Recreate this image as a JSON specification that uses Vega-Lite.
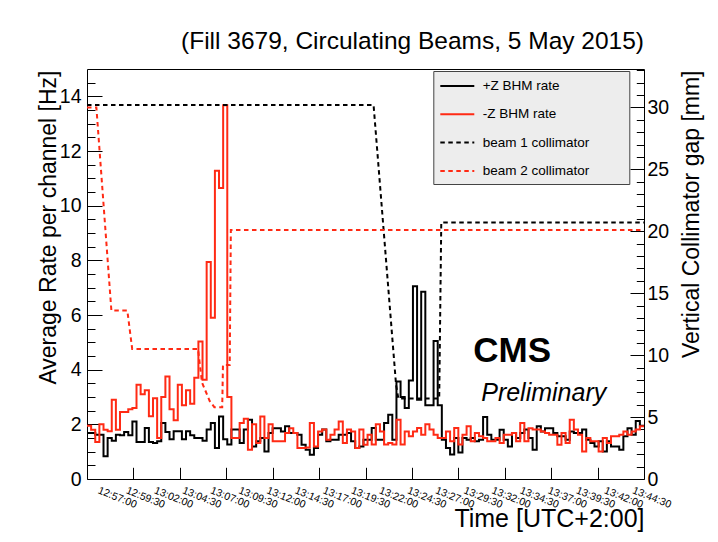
{
"$schema": "https://vega.github.io/schema/vega-lite/v6.json",
"width": 557, "height": 410,
"autosize": {"type": "none"},
"padding": {"left": 87, "top": 69, "right": 74, "bottom": 63},
"background": "#ffffff",
"config": {
  "view": {"stroke": "#000000", "strokeWidth": 1},
  "font": "Liberation Sans",
  "axis": {"domain": false, "grid": false, "labelColor": "#000000", "titleColor": "#000000", "tickColor": "#000000", "tickWidth": 1, "labelFont": "Liberation Sans", "titleFont": "Liberation Sans", "titleFontWeight": "normal"}
},
"title": {"text": "(Fill 3679, Circulating Beams, 5 May 2015)", "anchor": "end", "frame": "group", "font": "Liberation Sans", "fontSize": 24.5, "fontWeight": "normal", "color": "#000000", "baseline": "alphabetic", "offset": -4},
"layer": [
{
  "data": {"values": [
{"t":"12:55:52","plusZ":1.68,"minusZ":1.95},
{"t":"12:56:14","plusZ":1.68,"minusZ":1.8},
{"t":"12:56:36","plusZ":1.62,"minusZ":1.35},
{"t":"12:56:58","plusZ":1.62,"minusZ":2.0},
{"t":"12:57:20","plusZ":0.83,"minusZ":1.8},
{"t":"12:57:42","plusZ":1.5,"minusZ":1.75},
{"t":"12:58:04","plusZ":1.4,"minusZ":2.9},
{"t":"12:58:26","plusZ":1.62,"minusZ":1.8},
{"t":"12:58:48","plusZ":1.6,"minusZ":2.45},
{"t":"12:59:10","plusZ":1.72,"minusZ":2.45},
{"t":"12:59:32","plusZ":1.6,"minusZ":2.55},
{"t":"12:59:54","plusZ":2.1,"minusZ":2.6},
{"t":"13:00:16","plusZ":1.35,"minusZ":3.45},
{"t":"13:00:38","plusZ":1.35,"minusZ":3.1},
{"t":"13:01:00","plusZ":1.87,"minusZ":3.25},
{"t":"13:01:22","plusZ":1.35,"minusZ":2.3},
{"t":"13:01:44","plusZ":1.32,"minusZ":2.95},
{"t":"13:02:06","plusZ":1.38,"minusZ":1.5},
{"t":"13:02:28","plusZ":2.05,"minusZ":3.0},
{"t":"13:02:50","plusZ":1.72,"minusZ":3.75},
{"t":"13:03:12","plusZ":1.45,"minusZ":2.55},
{"t":"13:03:34","plusZ":1.75,"minusZ":2.15},
{"t":"13:03:56","plusZ":1.75,"minusZ":3.45},
{"t":"13:04:18","plusZ":1.45,"minusZ":2.7},
{"t":"13:04:40","plusZ":1.75,"minusZ":3.25},
{"t":"13:05:02","plusZ":1.6,"minusZ":2.75},
{"t":"13:05:24","plusZ":1.5,"minusZ":3.7},
{"t":"13:05:46","plusZ":1.5,"minusZ":5.03},
{"t":"13:06:08","plusZ":1.4,"minusZ":3.63},
{"t":"13:06:30","plusZ":1.81,"minusZ":7.94},
{"t":"13:06:52","plusZ":2.05,"minusZ":5.9},
{"t":"13:07:14","plusZ":1.13,"minusZ":11.28},
{"t":"13:07:36","plusZ":2.29,"minusZ":10.65},
{"t":"13:07:58","plusZ":1.45,"minusZ":13.67},
{"t":"13:08:20","plusZ":1.26,"minusZ":3.0},
{"t":"13:08:42","plusZ":1.81,"minusZ":1.5},
{"t":"13:09:04","plusZ":1.81,"minusZ":1.5},
{"t":"13:09:26","plusZ":1.32,"minusZ":2.05},
{"t":"13:09:48","plusZ":1.81,"minusZ":2.2},
{"t":"13:10:10","plusZ":2.17,"minusZ":1.07},
{"t":"13:10:32","plusZ":1.19,"minusZ":2.0},
{"t":"13:10:54","plusZ":1.38,"minusZ":1.32},
{"t":"13:11:16","plusZ":1.5,"minusZ":2.29},
{"t":"13:11:38","plusZ":1.01,"minusZ":1.5},
{"t":"13:12:00","plusZ":1.68,"minusZ":2.0},
{"t":"13:12:22","plusZ":1.86,"minusZ":1.38},
{"t":"13:12:44","plusZ":1.86,"minusZ":1.38},
{"t":"13:13:06","plusZ":1.74,"minusZ":1.38},
{"t":"13:13:28","plusZ":1.93,"minusZ":1.68},
{"t":"13:13:50","plusZ":1.68,"minusZ":1.86},
{"t":"13:14:12","plusZ":1.68,"minusZ":1.68},
{"t":"13:14:34","plusZ":1.62,"minusZ":1.13},
{"t":"13:14:56","plusZ":1.25,"minusZ":1.13},
{"t":"13:15:18","plusZ":1.07,"minusZ":1.15},
{"t":"13:15:40","plusZ":0.89,"minusZ":2.05},
{"t":"13:16:02","plusZ":1.13,"minusZ":1.19},
{"t":"13:16:24","plusZ":1.62,"minusZ":1.74},
{"t":"13:16:46","plusZ":1.81,"minusZ":1.81},
{"t":"13:17:08","plusZ":1.38,"minusZ":1.44},
{"t":"13:17:30","plusZ":1.44,"minusZ":1.62},
{"t":"13:17:52","plusZ":1.44,"minusZ":1.81},
{"t":"13:18:14","plusZ":1.62,"minusZ":2.1},
{"t":"13:18:36","plusZ":1.62,"minusZ":1.32},
{"t":"13:18:58","plusZ":1.68,"minusZ":1.81},
{"t":"13:19:20","plusZ":1.38,"minusZ":1.74},
{"t":"13:19:42","plusZ":1.13,"minusZ":1.13},
{"t":"13:20:04","plusZ":1.19,"minusZ":1.81},
{"t":"13:20:26","plusZ":1.44,"minusZ":1.25},
{"t":"13:20:48","plusZ":1.44,"minusZ":1.62},
{"t":"13:21:10","plusZ":1.87,"minusZ":1.26},
{"t":"13:21:32","plusZ":1.44,"minusZ":2.0},
{"t":"13:21:54","plusZ":1.44,"minusZ":1.74},
{"t":"13:22:16","plusZ":2.05,"minusZ":1.26},
{"t":"13:22:38","plusZ":2.35,"minusZ":1.32},
{"t":"13:23:00","plusZ":1.44,"minusZ":1.26},
{"t":"13:23:22","plusZ":3.57,"minusZ":2.17},
{"t":"13:23:44","plusZ":3.0,"minusZ":1.26},
{"t":"13:24:06","plusZ":2.6,"minusZ":1.74},
{"t":"13:24:28","plusZ":3.6,"minusZ":1.56},
{"t":"13:24:50","plusZ":7.05,"minusZ":1.74},
{"t":"13:25:12","plusZ":2.9,"minusZ":1.87},
{"t":"13:25:34","plusZ":6.85,"minusZ":1.62},
{"t":"13:25:56","plusZ":2.7,"minusZ":2.0},
{"t":"13:26:18","plusZ":2.7,"minusZ":1.81},
{"t":"13:26:40","plusZ":5.05,"minusZ":1.62},
{"t":"13:27:02","plusZ":2.7,"minusZ":1.5},
{"t":"13:27:24","plusZ":1.44,"minusZ":1.5},
{"t":"13:27:46","plusZ":1.13,"minusZ":1.74},
{"t":"13:28:08","plusZ":0.9,"minusZ":1.38},
{"t":"13:28:30","plusZ":1.5,"minusZ":1.87},
{"t":"13:28:52","plusZ":0.97,"minusZ":1.26},
{"t":"13:29:14","plusZ":1.5,"minusZ":1.62},
{"t":"13:29:36","plusZ":1.44,"minusZ":1.93},
{"t":"13:29:58","plusZ":1.5,"minusZ":1.38},
{"t":"13:30:20","plusZ":1.38,"minusZ":1.68},
{"t":"13:30:42","plusZ":1.44,"minusZ":1.56},
{"t":"13:31:04","plusZ":2.27,"minusZ":1.5},
{"t":"13:31:26","plusZ":1.62,"minusZ":1.38},
{"t":"13:31:48","plusZ":1.44,"minusZ":1.38},
{"t":"13:32:10","plusZ":1.44,"minusZ":1.5},
{"t":"13:32:32","plusZ":1.8,"minusZ":1.32},
{"t":"13:32:54","plusZ":1.44,"minusZ":1.62},
{"t":"13:33:16","plusZ":1.19,"minusZ":1.62},
{"t":"13:33:38","plusZ":1.68,"minusZ":1.68},
{"t":"13:34:00","plusZ":1.5,"minusZ":1.38},
{"t":"13:34:22","plusZ":1.68,"minusZ":2.05},
{"t":"13:34:44","plusZ":1.81,"minusZ":1.38},
{"t":"13:35:06","plusZ":1.5,"minusZ":1.86},
{"t":"13:35:28","plusZ":1.07,"minusZ":1.81},
{"t":"13:35:50","plusZ":1.93,"minusZ":1.81},
{"t":"13:36:12","plusZ":1.74,"minusZ":1.74},
{"t":"13:36:34","plusZ":1.86,"minusZ":1.68},
{"t":"13:36:56","plusZ":1.86,"minusZ":1.62},
{"t":"13:37:18","plusZ":1.68,"minusZ":1.62},
{"t":"13:37:40","plusZ":1.56,"minusZ":1.25},
{"t":"13:38:02","plusZ":1.56,"minusZ":1.68},
{"t":"13:38:24","plusZ":1.44,"minusZ":1.32},
{"t":"13:38:46","plusZ":1.74,"minusZ":2.17},
{"t":"13:39:08","plusZ":1.68,"minusZ":1.81},
{"t":"13:39:30","plusZ":1.68,"minusZ":1.62},
{"t":"13:39:52","plusZ":1.81,"minusZ":1.01},
{"t":"13:40:14","plusZ":1.44,"minusZ":1.5},
{"t":"13:40:36","plusZ":1.32,"minusZ":1.38},
{"t":"13:40:58","plusZ":1.19,"minusZ":1.38},
{"t":"13:41:20","plusZ":1.38,"minusZ":1.01},
{"t":"13:41:42","plusZ":1.01,"minusZ":1.5},
{"t":"13:42:04","plusZ":1.38,"minusZ":1.32},
{"t":"13:42:26","plusZ":1.19,"minusZ":1.56},
{"t":"13:42:48","plusZ":1.19,"minusZ":1.56},
{"t":"13:43:10","plusZ":1.07,"minusZ":1.62},
{"t":"13:43:32","plusZ":1.56,"minusZ":1.74},
{"t":"13:43:54","plusZ":1.86,"minusZ":1.62},
{"t":"13:44:16","plusZ":1.62,"minusZ":1.74},
{"t":"13:44:38","plusZ":2.12,"minusZ":1.81},
{"t":"13:45:00","plusZ":1.95,"minusZ":1.93},
{"t":"13:45:22","plusZ":1.95,"minusZ":1.93}
  ], "format": {"parse": {"t": "date:'%H:%M:%S'"}}},
  "transform": [{"fold": ["plusZ", "minusZ"], "as": ["series", "rate"]}],
  "mark": {"type": "line", "interpolate": "step-after", "strokeWidth": 2},
  "encoding": {
    "x": {"field": "t", "type": "temporal",
      "scale": {"domain": [{"year":1900,"month":1,"date":1,"hours":12,"minutes":55,"seconds":52},{"year":1900,"month":1,"date":1,"hours":13,"minutes":45,"seconds":22}], "nice": false},
      "axis": {"orient": "bottom", "format": "%H:%M:%S",
        "values": [
          {"year":1900,"month":1,"date":1,"hours":12,"minutes":57,"seconds":0},
          {"year":1900,"month":1,"date":1,"hours":12,"minutes":59,"seconds":30},
          {"year":1900,"month":1,"date":1,"hours":13,"minutes":2,"seconds":0},
          {"year":1900,"month":1,"date":1,"hours":13,"minutes":4,"seconds":30},
          {"year":1900,"month":1,"date":1,"hours":13,"minutes":7,"seconds":0},
          {"year":1900,"month":1,"date":1,"hours":13,"minutes":9,"seconds":30},
          {"year":1900,"month":1,"date":1,"hours":13,"minutes":12,"seconds":0},
          {"year":1900,"month":1,"date":1,"hours":13,"minutes":14,"seconds":30},
          {"year":1900,"month":1,"date":1,"hours":13,"minutes":17,"seconds":0},
          {"year":1900,"month":1,"date":1,"hours":13,"minutes":19,"seconds":30},
          {"year":1900,"month":1,"date":1,"hours":13,"minutes":22,"seconds":0},
          {"year":1900,"month":1,"date":1,"hours":13,"minutes":24,"seconds":30},
          {"year":1900,"month":1,"date":1,"hours":13,"minutes":27,"seconds":0},
          {"year":1900,"month":1,"date":1,"hours":13,"minutes":29,"seconds":30},
          {"year":1900,"month":1,"date":1,"hours":13,"minutes":32,"seconds":0},
          {"year":1900,"month":1,"date":1,"hours":13,"minutes":34,"seconds":30},
          {"year":1900,"month":1,"date":1,"hours":13,"minutes":37,"seconds":0},
          {"year":1900,"month":1,"date":1,"hours":13,"minutes":39,"seconds":30},
          {"year":1900,"month":1,"date":1,"hours":13,"minutes":42,"seconds":0},
          {"year":1900,"month":1,"date":1,"hours":13,"minutes":44,"seconds":30}
        ],
        "labelAngle": 22, "labelAlign": "left", "labelBaseline": "top", "labelFontSize": 10.5, "labelPadding": 6,
        "labelOverlap": false, "labelFlush": false, "ticks": false,
        "title": "Time [UTC+2:00]", "titleFontSize": 25, "titleX": 557, "titleY": 47, "titleAlign": "right", "titleBaseline": "alphabetic", "titleAngle": 0}},
    "y": {"field": "rate", "type": "quantitative",
      "scale": {"domain": [0, 15], "nice": false},
      "axis": {"orient": "left", "values": [0, 2, 4, 6, 8, 10, 12, 14], "tickSize": -15, "labelPadding": 21, "labelFontSize": 19.5,
        "title": "Average Rate per channel [Hz]", "titleFontSize": 23, "titleAngle": 270, "titleAlign": "right", "titleBaseline": "alphabetic", "titleX": -32, "titleY": 1}},
    "color": {"field": "series", "type": "nominal",
      "scale": {"domain": ["plusZ", "minusZ", "beam1", "beam2"], "range": ["#000000", "#ff2a14", "#000000", "#ff2a14"]},
      "legend": {"title": null, "orient": "none", "legendX": 346.3, "legendY": 2, "fillColor": "#ededed", "strokeColor": "#444444", "padding": 6,
        "symbolType": "M-1,0H3.25", "symbolSize": 256, "symbolStrokeWidth": 2, "labelFont": "Liberation Sans", "labelFontSize": 13.5, "labelColor": "#000000",
        "labelOffset": 25.4, "rowPadding": 12.3, "labelLimit": 300,
        "labelExpr": "(datum.value == 'plusZ' ? '+Z BHM rate' : datum.value == 'minusZ' ? '-Z BHM rate' : datum.value == 'beam1' ? 'beam 1 collimator' : 'beam 2 collimator') + '         \u200b'"}},
    "strokeDash": {"field": "series", "type": "nominal",
      "scale": {"domain": ["plusZ", "minusZ", "beam1", "beam2"], "range": [[1, 0], [1, 0], [4.5, 3.5], [4.5, 3.5]]},
      "legend": {"title": null, "orient": "none", "legendX": 346.3, "legendY": 2, "fillColor": "#ededed", "strokeColor": "#444444", "padding": 6,
        "symbolType": "M-1,0H3.25", "symbolSize": 256, "symbolStrokeWidth": 2, "labelFont": "Liberation Sans", "labelFontSize": 13.5, "labelColor": "#000000",
        "labelOffset": 25.4, "rowPadding": 12.3, "labelLimit": 300,
        "labelExpr": "(datum.value == 'plusZ' ? '+Z BHM rate' : datum.value == 'minusZ' ? '-Z BHM rate' : datum.value == 'beam1' ? 'beam 1 collimator' : 'beam 2 collimator') + '         \u200b'"}}
  }
},
{
  "data": {"values": [
{"t":"12:55:52","series":"beam1","gap":30.2},
{"t":"13:21:20","series":"beam1","gap":30.2},
{"t":"13:23:20","series":"beam1","gap":7.6},
{"t":"13:23:32","series":"beam1","gap":6.5},
{"t":"13:27:10","series":"beam1","gap":6.5},
{"t":"13:27:21","series":"beam1","gap":20.7},
{"t":"13:45:22","series":"beam1","gap":20.7},
{"t":"12:55:52","series":"beam2","gap":30.0},
{"t":"12:56:42","series":"beam2","gap":30.0},
{"t":"12:58:02","series":"beam2","gap":13.6},
{"t":"12:59:27","series":"beam2","gap":13.6},
{"t":"12:59:53","series":"beam2","gap":10.5},
{"t":"13:05:44","series":"beam2","gap":10.5},
{"t":"13:06:05","series":"beam2","gap":7.8},
{"t":"13:06:46","series":"beam2","gap":6.3},
{"t":"13:07:11","series":"beam2","gap":5.8},
{"t":"13:07:53","series":"beam2","gap":5.8},
{"t":"13:07:57","series":"beam2","gap":9.2},
{"t":"13:08:33","series":"beam2","gap":9.2},
{"t":"13:08:39","series":"beam2","gap":20.1},
{"t":"13:45:22","series":"beam2","gap":20.1}
  ], "format": {"parse": {"t": "date:'%H:%M:%S'"}}},
  "mark": {"type": "line", "strokeWidth": 2},
  "encoding": {
    "x": {"field": "t", "type": "temporal",
      "scale": {"domain": [{"year":1900,"month":1,"date":1,"hours":12,"minutes":55,"seconds":52},{"year":1900,"month":1,"date":1,"hours":13,"minutes":45,"seconds":22}], "nice": false},
      "axis": null},
    "y": {"field": "gap", "type": "quantitative",
      "scale": {"domain": [0, 33.1], "nice": false},
      "axis": {"orient": "right", "values": [0, 5, 10, 15, 20, 25, 30], "tickSize": -14, "labelPadding": 17, "labelFontSize": 19.5,
        "title": "Vertical Collimator gap [mm]", "titleFontSize": 23, "titleAngle": 270, "titleAlign": "right", "titleBaseline": "alphabetic", "titleX": 54, "titleY": 1}},
    "color": {"field": "series", "type": "nominal",
      "scale": {"domain": ["plusZ", "minusZ", "beam1", "beam2"], "range": ["#000000", "#ff2a14", "#000000", "#ff2a14"]}},
    "strokeDash": {"field": "series", "type": "nominal",
      "scale": {"domain": ["plusZ", "minusZ", "beam1", "beam2"], "range": [[1, 0], [1, 0], [4.5, 3.5], [4.5, 3.5]]}}
  }
},
{
  "data": {"values": [{"label": "CMS"}]},
  "mark": {"type": "text", "align": "left", "baseline": "alphabetic", "fontSize": 35, "fontWeight": "bold", "font": "Liberation Sans", "color": "#000000"},
  "encoding": {
    "text": {"field": "label"},
    "x": {"datum": {"year":1900,"month":1,"date":1,"hours":13,"minutes":30,"seconds":12}, "type": "temporal",
      "scale": {"domain": [{"year":1900,"month":1,"date":1,"hours":12,"minutes":55,"seconds":52},{"year":1900,"month":1,"date":1,"hours":13,"minutes":45,"seconds":22}], "nice": false},
      "axis": {"orient": "bottom", "labels": false, "title": null, "tickSize": -11.7,
        "values": [
          {"year":1900,"month":1,"date":1,"hours":12,"minutes":59,"seconds":59,"milliseconds":500},
          {"year":1900,"month":1,"date":1,"hours":13,"minutes":4,"seconds":7},
          {"year":1900,"month":1,"date":1,"hours":13,"minutes":8,"seconds":14,"milliseconds":500},
          {"year":1900,"month":1,"date":1,"hours":13,"minutes":12,"seconds":22},
          {"year":1900,"month":1,"date":1,"hours":13,"minutes":16,"seconds":29,"milliseconds":500},
          {"year":1900,"month":1,"date":1,"hours":13,"minutes":20,"seconds":37},
          {"year":1900,"month":1,"date":1,"hours":13,"minutes":24,"seconds":44,"milliseconds":500},
          {"year":1900,"month":1,"date":1,"hours":13,"minutes":28,"seconds":52},
          {"year":1900,"month":1,"date":1,"hours":13,"minutes":32,"seconds":59,"milliseconds":500},
          {"year":1900,"month":1,"date":1,"hours":13,"minutes":37,"seconds":7},
          {"year":1900,"month":1,"date":1,"hours":13,"minutes":41,"seconds":14,"milliseconds":500}
        ]}},
    "y": {"datum": 4.29, "type": "quantitative",
      "scale": {"domain": [0, 15], "nice": false},
      "axis": {"orient": "left", "labels": false, "title": null, "tickSize": -8,
        "values": [0.5, 1, 1.5, 2.5, 3, 3.5, 4.5, 5, 5.5, 6.5, 7, 7.5, 8.5, 9, 9.5, 10.5, 11, 11.5, 12.5, 13, 13.5, 14.5]}}
  }
},
{
  "data": {"values": [{"label": "Preliminary"}]},
  "mark": {"type": "text", "align": "left", "baseline": "alphabetic", "fontSize": 25, "fontStyle": "italic", "font": "Liberation Sans", "color": "#000000"},
  "encoding": {
    "text": {"field": "label"},
    "x": {"datum": {"year":1900,"month":1,"date":1,"hours":13,"minutes":30,"seconds":54}, "type": "temporal",
      "scale": {"domain": [{"year":1900,"month":1,"date":1,"hours":12,"minutes":55,"seconds":52},{"year":1900,"month":1,"date":1,"hours":13,"minutes":45,"seconds":22}], "nice": false},
      "axis": null},
    "y": {"datum": 6.26, "type": "quantitative",
      "scale": {"domain": [0, 33.1], "nice": false},
      "axis": {"orient": "right", "labels": false, "title": null, "tickSize": -7.7,
        "values": [1, 2, 3, 4, 6, 7, 8, 9, 11, 12, 13, 14, 16, 17, 18, 19, 21, 22, 23, 24, 26, 27, 28, 29, 31, 32, 33]}}
  }
}
],
"resolve": {"scale": {"y": "independent"}, "axis": {"x": "independent"}}
}
